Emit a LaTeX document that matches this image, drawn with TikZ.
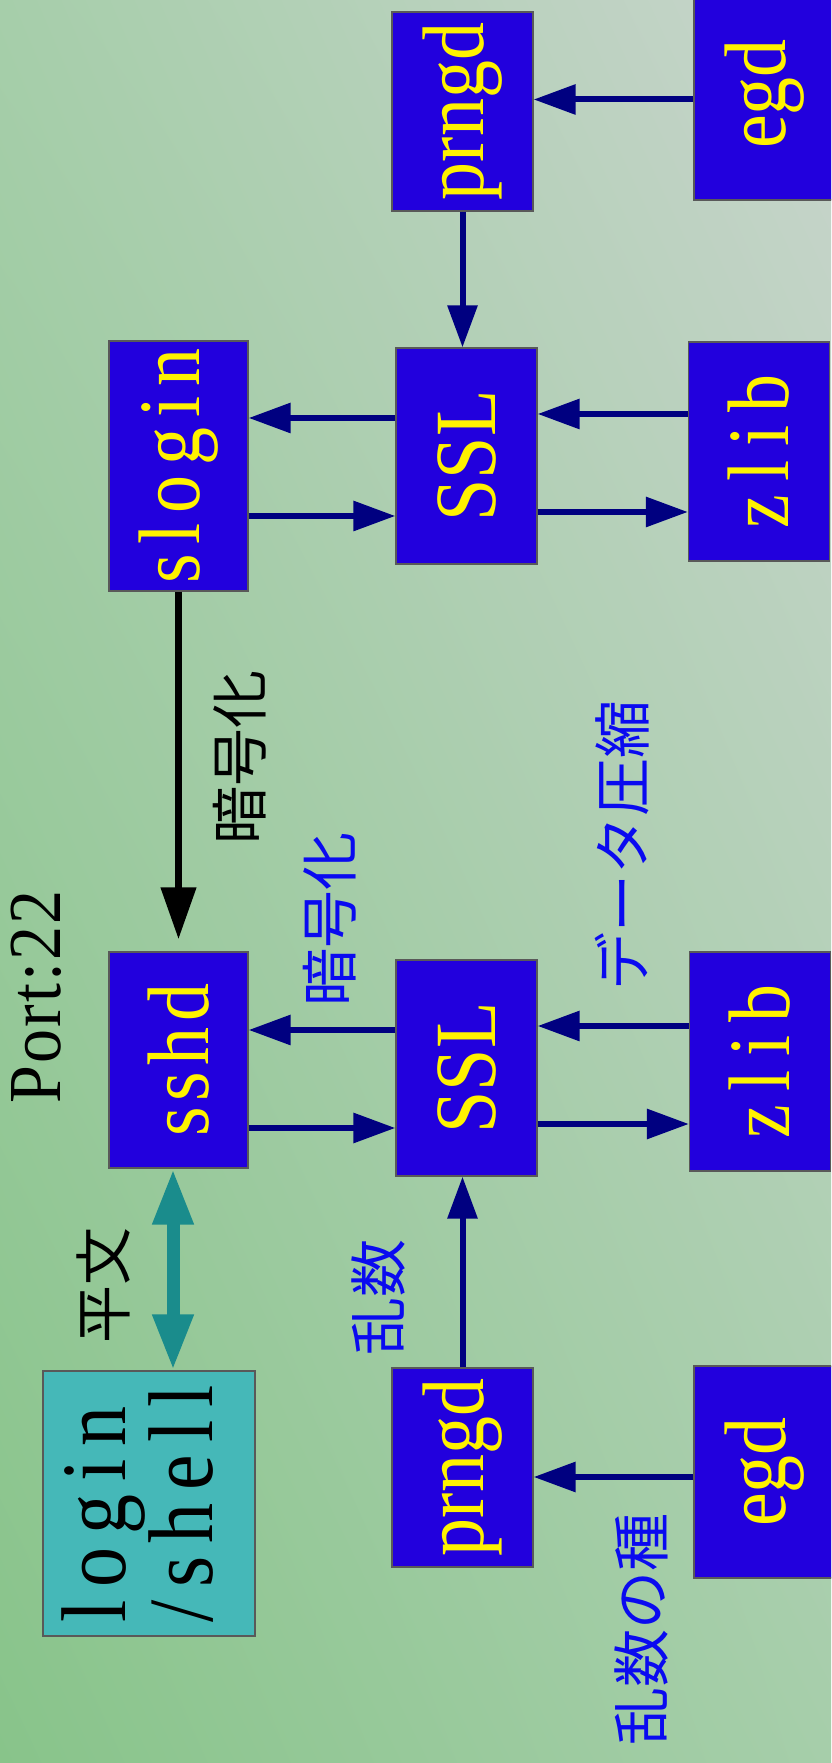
\documentclass[tikz,border=0pt]{standalone}
\usepackage{fontspec}
\usepackage{graphicx}
\setmainfont{Liberation Serif}
\newfontfamily\jpfont{Noto Sans CJK JP}
\usetikzlibrary{arrows.meta, calc, positioning, shadings}
\definecolor{cBox}{HTML}{2200DD}
\definecolor{cShell}{HTML}{45B8B8}
\definecolor{cArr}{HTML}{000080}
\definecolor{cTeal}{HTML}{1A8C8C}
\definecolor{cBgA}{HTML}{88C48A}
\definecolor{cBgB}{HTML}{C8D4CC}
\definecolor{cBgC}{HTML}{A6CEAA}
\definecolor{cLbl}{HTML}{0A0AF0}
\newcommand{\rottxt}[1]{\rotatebox{90}{\scalebox{1}[1.15]{#1}}}
\tikzset{
    proc/.style={draw=black!65, line width=0.6pt, fill=cBox, text=yellow,
                 inner sep=0pt, minimum width=70.5pt, minimum height=108pt,
                 font=\fontsize{38}{38.5}\selectfont},
    shellbox/.style={proc, fill=cShell, text=black},
    arr/.style={-{Triangle[length=21pt, width=14.5pt]}, line width=3pt, cArr},
    cryptarr/.style={-{Triangle[length=26pt, width=17pt]}, line width=3.7pt, black},
    plainarr/.style={{Triangle[length=28pt, width=19pt]}-{Triangle[length=28pt, width=19pt]},
                     line width=6.5pt, cTeal},
    lbl/.style={rotate=90, inner sep=0pt, font=\jpfont\fontsize{29}{30}\selectfont},
    note/.style={lbl, text=cLbl},
}

\begin{document}
\begin{tikzpicture}[x=0.5pt, y=0.5pt]

\useasboundingbox (0,0) rectangle (831,1763);
\clip (0,0) rectangle (831,1763);
\shade[lower left=cBgA, upper right=cBgB, upper left=cBgC, lower right=cBgC]
    (0,0) rectangle (831,1763);

% server side (top)
\node[proc, minimum height=99.5pt] (prngdT) at (462.5,1651.5) {\rottxt{prngd}};
\node[proc, minimum height=106pt]  (egdT)   at (764.5,1669)   {\rottxt{egd}};
\node[proc, minimum width=69.5pt, minimum height=125pt] (slogin) at (178.5,1297)
    {\rottxt{\addfontfeatures{LetterSpace=13}slogin}};
\node[proc] (SSLt) at (466.5,1307) {\rottxt{SSL}};
\node[proc, minimum height=109.5pt] (zlibT) at (759,1311.5)
    {\rottxt{\addfontfeatures{LetterSpace=18}zlib}};

% client side (bottom)
\node[proc, minimum width=69.5pt] (sshd) at (178.5,703)
    {\rottxt{\addfontfeatures{LetterSpace=8}sshd}};
\node[proc] (SSLb) at (466.5,695) {\rottxt{SSL}};
\node[proc, minimum height=109.5pt] (zlibB) at (760,701.5)
    {\rottxt{\addfontfeatures{LetterSpace=18}zlib}};
\node[shellbox, minimum width=106pt, minimum height=132.5pt,
      font=\fontsize{40}{34}\selectfont] (login) at (149,259.5)
    {\rottxt{\addfontfeatures{LetterSpace=16}\begin{tabular}{@{}l@{}}login\\/shell\end{tabular}}};
\node[proc, minimum height=99.5pt] (prngdB) at (462.5,295.5) {\rottxt{prngd}};
\node[proc, minimum height=106pt]  (egdB)   at (764.5,291)   {\rottxt{egd}};

% SSL <-> app / zlib
\foreach \s/\c/\z in {SSLt/slogin/zlibT, SSLb/sshd/zlibB}{%
    \draw[arr] ([yshift=19pt]\s.west) -- ([yshift=19pt]\s.west -| \c.east);
    \draw[arr] ([yshift=-30pt]\s.west -| \c.east) -- ([yshift=-30pt]\s.west);
    \draw[arr] ([yshift=21pt]\s.east -| \z.west) -- ([yshift=21pt]\s.east);
    \draw[arr] ([yshift=-28pt]\s.east) -- ([yshift=-28pt]\s.east -| \z.west);
}

\draw[arr] ([yshift=6pt]prngdT.east -| egdT.west) -- ([yshift=6pt]prngdT.east);
\draw[arr] (prngdT.south) -- (prngdT.south |- SSLt.north);
\draw[arr] ([yshift=-4.75pt]prngdB.east -| egdB.west) -- ([yshift=-4.75pt]prngdB.east);
\draw[arr] (prngdB.north) -- (prngdB.north |- SSLb.south);

\draw[cryptarr, shorten >=6pt] (slogin.south) -- (sshd.north);
\draw[plainarr] ([xshift=-2.75pt]sshd.south) -- ([xshift=-2.75pt]sshd.south |- login.north);

% labels
\node[rotate=90, inner sep=0pt, font=\fontsize{34}{36}\selectfont\addfontfeatures{LetterSpace=3}]
    (port) at (36,766) {\scalebox{1}[1.1]{Port:22}};
\node[lbl]  (encA)  at (240,1005) {暗号化};
\node[note] (encB)  at (330,843)  {暗号化};
\node[note] (comp)  at (622,917)  {データ圧縮};
\node[lbl]  (plain) at (103,477)  {平文};
\node[note] (rand)  at (379,465)  {乱数};
\node[note] (seed)  at (642,133)  {乱数の種};

\end{tikzpicture}
\end{document}
